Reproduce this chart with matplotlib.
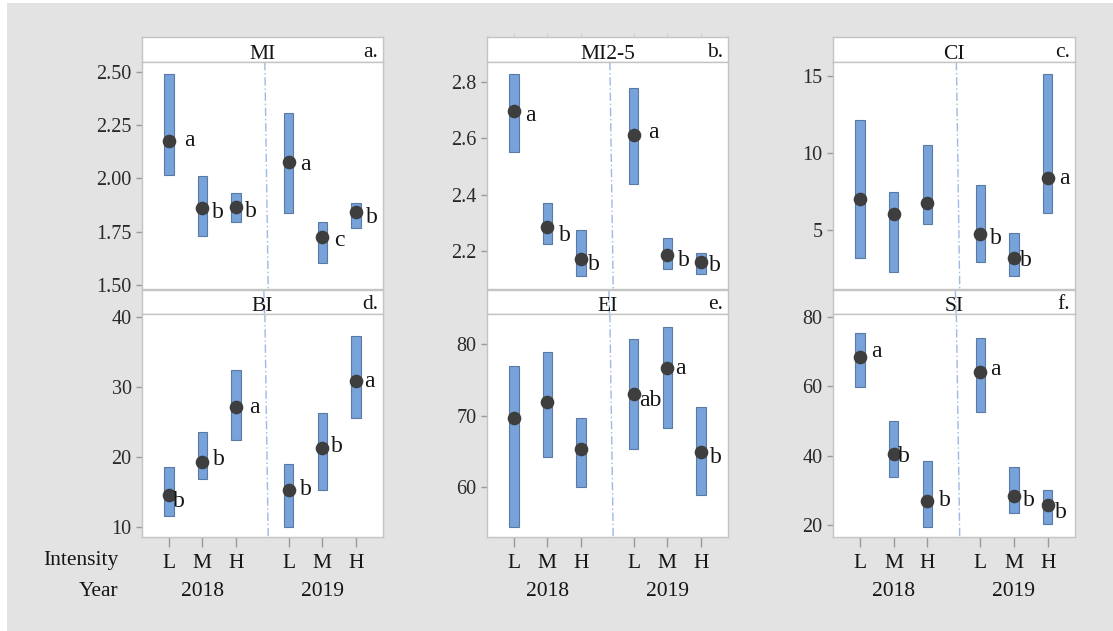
import matplotlib
matplotlib.use("Agg")
import matplotlib.pyplot as plt
from matplotlib import transforms
from matplotlib.patches import Rectangle

# ---------------- data ----------------
intensity = ["L", "M", "H", "L", "M", "H"]
years = ["2018", "2019"]
panel_names = ["MI", "MI2-5", "CI", "BI", "EI", "SI"]
panel_tags = ["a.", "b.", "c.", "d.", "e.", "f."]

mi_mean = [2.175, 1.860, 1.867, 2.078, 1.726, 1.841]
mi_low = [2.016, 1.731, 1.794, 1.839, 1.605, 1.769]
mi_high = [2.488, 2.011, 1.931, 2.306, 1.795, 1.884]
mi_letters = ["a", "b", "b", "a", "c", "b"]

mi25_mean = [2.699, 2.284, 2.170, 2.612, 2.185, 2.159]
mi25_low = [2.552, 2.223, 2.111, 2.438, 2.136, 2.118]
mi25_high = [2.828, 2.370, 2.272, 2.781, 2.244, 2.192]
mi25_letters = ["a", "b", "b", "a", "b", "b"]

ci_mean = [7.01, 6.06, 6.79, 4.74, 3.23, 8.39]
ci_low = [3.23, 2.28, 5.43, 2.93, 2.06, 6.14]
ci_high = [12.15, 7.50, 10.53, 7.92, 4.83, 15.11]
ci_letters = ["", "", "", "b", "b", "a"]

bi_mean = [14.56, 19.30, 27.09, 15.31, 21.25, 30.84]
bi_low = [11.65, 16.93, 22.39, 10.00, 15.31, 25.53]
bi_high = [18.55, 23.62, 32.41, 19.02, 26.33, 37.25]
bi_letters = ["b", "b", "a", "b", "b", "a"]

ei_mean = [69.6, 71.94, 65.34, 73.02, 76.67, 64.83]
ei_low = [54.3, 64.2, 59.96, 65.30, 68.2, 58.79]
ei_high = [76.95, 78.92, 69.65, 80.70, 82.47, 71.15]
ei_letters = ["", "", "", "ab", "a", "b"]

si_mean = [68.48, 40.37, 26.83, 64.16, 28.45, 25.78]
si_low = [59.67, 33.74, 19.34, 52.64, 23.55, 20.38]
si_high = [75.4, 49.96, 38.44, 73.95, 36.62, 30.09]
si_letters = ["a", "b", "b", "a", "b", "b"]

yticks_mi = [1.50, 1.75, 2.00, 2.25, 2.50]
yticks_mi25 = [2.2, 2.4, 2.6, 2.8]
yticks_ci = [5, 10, 15]
yticks_bi = [10, 20, 30, 40]
yticks_ei = [60, 70, 80]
yticks_si = [20, 40, 60, 80]

# ---------------- layout / style ----------------
W, H = 1113, 631
SERIF = ["Liberation Serif", "DejaVu Serif"]
BAR_FACE = "#77a3da"
BAR_EDGE = "#5a7aa6"
DOT = "#3e3e3e"
FRAME = "#c4c4c4"
TICK = "#9a9a9a"
BG = "#e3e3e3"
TXT = "#151515"
GROUP_GAP = 0.57
BAR_W = 0.28

panels = [
    dict(mean=mi_mean, low=mi_low, high=mi_high, letters=mi_letters,
         ticks=yticks_mi, fmt="{:.2f}", ylim=(1.481, 2.545)),
    dict(mean=mi25_mean, low=mi25_low, high=mi25_high, letters=mi25_letters,
         ticks=yticks_mi25, fmt="{:.1f}", ylim=(2.0635, 2.872)),
    dict(mean=ci_mean, low=ci_low, high=ci_high, letters=ci_letters,
         ticks=yticks_ci, fmt="{:g}", ylim=(1.196, 15.91)),
    dict(mean=bi_mean, low=bi_low, high=bi_high, letters=bi_letters,
         ticks=yticks_bi, fmt="{:g}", ylim=(8.62, 40.38)),
    dict(mean=ei_mean, low=ei_low, high=ei_high, letters=ei_letters,
         ticks=yticks_ei, fmt="{:g}", ylim=(52.94, 84.26)),
    dict(mean=si_mean, low=si_low, high=si_high, letters=si_letters,
         ticks=yticks_si, fmt="{:g}", ylim=(16.54, 80.78)),
]

# letter nudges (pixels right, pixels down) relative to each dot
nudges = [
    [(21, 0), (15, 2), (15, 3), (17, 3), (17, 4), (16, 3)],
    [(17, 5), (17, 6), (13, 3), (20, -2), (17, 3), (14, 1)],
    [None, None, None, (16, 2), (12, 1), (17, 0)],
    [(10, 4), (16, -5), (18, 0), (17, -3), (15, -4), (14, 1)],
    [None, None, None, (17, 4), (13, 0), (15, 3)],
    [(16, -5), (10, 0), (18, -3), (15, -2), (15, 3), (13, 5)],
]

col_x = [(142, 383), (487, 728), (833, 1075)]
row_y = [(37, 62, 289), (290, 314, 537)]  # strip top, plot top, plot bottom

xpos = [i % 3 + (i // 3) * (3 + GROUP_GAP) for i in range(len(intensity))]
XLIM = (-0.8, 5.57 + 0.81)

fig = plt.figure(figsize=(W / 100, H / 100), dpi=100)
fig.patch.set_facecolor("white")
fig.add_artist(Rectangle((7 / W, 0), 1 - 7 / W, 1 - 3 / H, transform=fig.transFigure,
                         facecolor=BG, edgecolor="none", zorder=-10))


def px_axes(l, t, r, b):
    return fig.add_axes([l / W, 1 - b / H, (r - l) / W, (b - t) / H])


for k, p in enumerate(panels):
    row, col = divmod(k, 3)
    l, r = col_x[col]
    st, pt, pb = row_y[row]

    # strip header
    sax = px_axes(l, st, r, pt)
    sax.set_facecolor("white")
    sax.set_xlim(*XLIM)
    sax.set_ylim(0, 1)
    sax.set_yticks([])
    for s in sax.spines.values():
        s.set_color(FRAME)
        s.set_linewidth(1)
    if k == 1:
        sax.xaxis.set_ticks_position("top")
        sax.set_xticks(xpos)
        sax.set_xticklabels([])
        sax.tick_params(axis="x", length=3, color="#cfcfcf", direction="out")
    else:
        sax.set_xticks([])
    sax.text(sum(XLIM) / 2, 0.13, panel_names[k], ha="center", va="baseline",
             fontsize=15.5, family=SERIF, color=TXT)
    sax.text(0.979, 0.2, panel_tags[k], transform=sax.transAxes, ha="right",
             va="baseline", fontsize=15.5, family=SERIF, color=TXT)
    if row == 1:
        sax.plot([2.83, 2.85], [1, 0], color="#9db9e6", lw=1,
                 linestyle=(0, (6, 2, 1, 2)), zorder=1)

    # plot area
    ax = px_axes(l, pt, r, pb)
    ax.set_facecolor("white")
    ax.set_xlim(*XLIM)
    ax.set_ylim(*p["ylim"])
    for s in ax.spines.values():
        s.set_color(FRAME)
        s.set_linewidth(1)

    y0, y1 = p["ylim"]
    ax.plot([2.86, 2.96], [y1, y0], color="#9db9e6", lw=1,
            linestyle=(0, (6, 2, 1, 2)), zorder=1)

    heights = [h - lo for h, lo in zip(p["high"], p["low"])]
    ax.bar(xpos, heights, bottom=p["low"], width=BAR_W, color=BAR_FACE,
           edgecolor=BAR_EDGE, linewidth=0.8, zorder=2)
    ax.plot(xpos, p["mean"], "o", ms=8.8, color=DOT, zorder=3)

    for i, (xv, yv, lab) in enumerate(zip(xpos, p["mean"], p["letters"])):
        if not lab:
            continue
        dx, dd = nudges[k][i]
        half = 7.8 if "b" in lab else 5.5
        ax.annotate(lab, (xv, yv), xytext=(dx * 0.72, -(dd + half) * 0.72),
                    textcoords="offset points", ha="center", va="baseline",
                    fontsize=17, family=SERIF, color=TXT, zorder=4)

    ax.set_yticks(p["ticks"])
    ax.set_yticklabels([p["fmt"].format(t) for t in p["ticks"]],
                       family=SERIF, fontsize=14.5, color="#2a2a2a")
    ax.tick_params(axis="y", length=4.5, width=1, color=TICK, pad=3)

    if row == 1:
        ax.set_xticks(xpos)
        ax.set_xticklabels(intensity, family=SERIF, fontsize=15.5, color=TXT)
        ax.tick_params(axis="x", length=7, width=1, color=TICK, pad=5)
        blend = transforms.blended_transform_factory(ax.transData, fig.transFigure)
        for g, yr in enumerate(years):
            cx = (xpos[3 * g] + xpos[3 * g + 2]) / 2
            ax.text(cx, 1 - 592 / H, yr, transform=blend, ha="center", va="center",
                    fontsize=15.5, family=SERIF, color=TXT)
    else:
        ax.set_xticks([])

fig.text(118 / W, 1 - 561 / H, "Intensity", ha="right", va="center",
         fontsize=15.5, family=SERIF, color=TXT)
fig.text(118 / W, 1 - 592 / H, "Year", ha="right", va="center",
         fontsize=15.5, family=SERIF, color=TXT)

fig.savefig("out.png", dpi=100, facecolor=fig.get_facecolor())
